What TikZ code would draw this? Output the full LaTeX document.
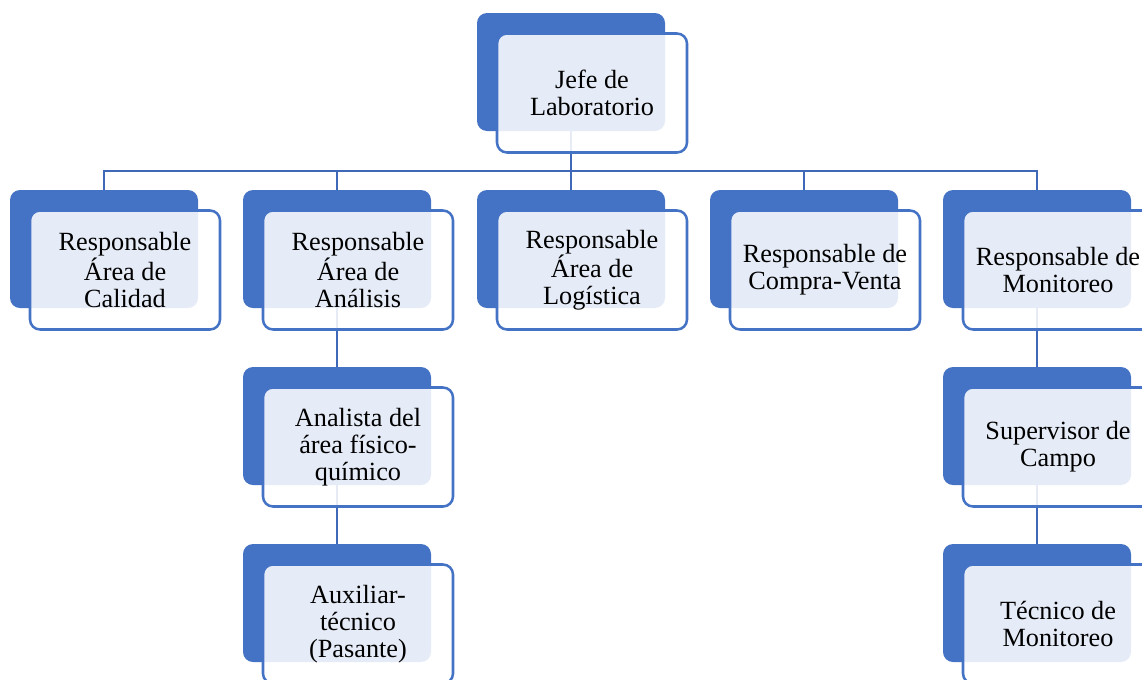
\documentclass[tikz,border=0pt]{standalone}
\usepackage{fontspec}
\setmainfont{Liberation Serif}
\usetikzlibrary{backgrounds}
\definecolor{boxblue}{HTML}{4472C4}
\definecolor{lineblue}{HTML}{3F69B8}

\begin{document}
\begin{tikzpicture}[x=0.75pt,y=-0.75pt,
  backbox/.style={fill=boxblue,rounded corners=7.5pt,minimum width=141pt,minimum height=88.5pt,inner sep=0pt},
  frontbox/.style={draw=boxblue,line width=1.9pt,fill=white,fill opacity=0.87,text opacity=1,
    rounded corners=7.5pt,minimum width=142.5pt,minimum height=89.25pt,inner sep=0pt,
    align=center,font=\fontsize{19.7}{20.25}\selectfont},
  link/.style={draw=lineblue,line width=2pt}]
\useasboundingbox (0,0) rectangle (1142,679);
\clip (0,0) rectangle (1142,679);
% top
\node [backbox] (jefeB) at (571,72) {};
\node [frontbox] (jefeF) at (592,93) {Jefe de\\Laboratorio};
% first level
\node [backbox] (calB) at (104,249) {};
\node [frontbox] (calF) at (125,270) {Responsable\\Área de\\Calidad};
\node [backbox] (anaB) at (337,249) {};
\node [frontbox] (anaF) at (358,270) {Responsable\\Área de\\Análisis};
\node [backbox] (logB) at (571,249) {};
\node [frontbox] (logF) at (592,270) {Responsable\\Área de\\Logística};
\node [backbox] (comB) at (804,249) {};
\node [frontbox] (comF) at (825,270) {Responsable de\\Compra-Venta};
\node [backbox] (monB) at (1037,249) {};
\node [frontbox] (monF) at (1058,270) {Responsable de\\Monitoreo};
% below
\node [backbox] (fisB) at (337,426) {};
\node [frontbox] (fisF) at (358,447) {Analista del\\área físico-\\químico};
\node [backbox] (auxB) at (337,603) {};
\node [frontbox] (auxF) at (358,624) {Auxiliar-\\técnico\\(Pasante)};
\node [backbox] (supB) at (1037,426) {};
\node [frontbox] (supF) at (1058,447) {Supervisor de\\Campo};
\node [backbox] (tecB) at (1037,603) {};
\node [frontbox] (tecF) at (1058,624) {Técnico de\\Monitoreo};
\coordinate (bus) at (571,171);
\begin{pgfonlayer}{background}
\draw [link] (jefeB.south) -- (bus);
\draw [link] (calB.north) |- (bus) -| (monB.north);
\draw [link] (anaB.north) -- (anaB.north |- bus);
\draw [link] (logB.north) -- (bus);
\draw [link] (comB.north) -- (comB.north |- bus);
\draw [link] (anaB.south) -- (fisB.north);
\draw [link] (fisB.south) -- (auxB.north);
\draw [link] (monB.south) -- (supB.north);
\draw [link] (supB.south) -- (tecB.north);
\end{pgfonlayer}
\end{tikzpicture}
\end{document}
